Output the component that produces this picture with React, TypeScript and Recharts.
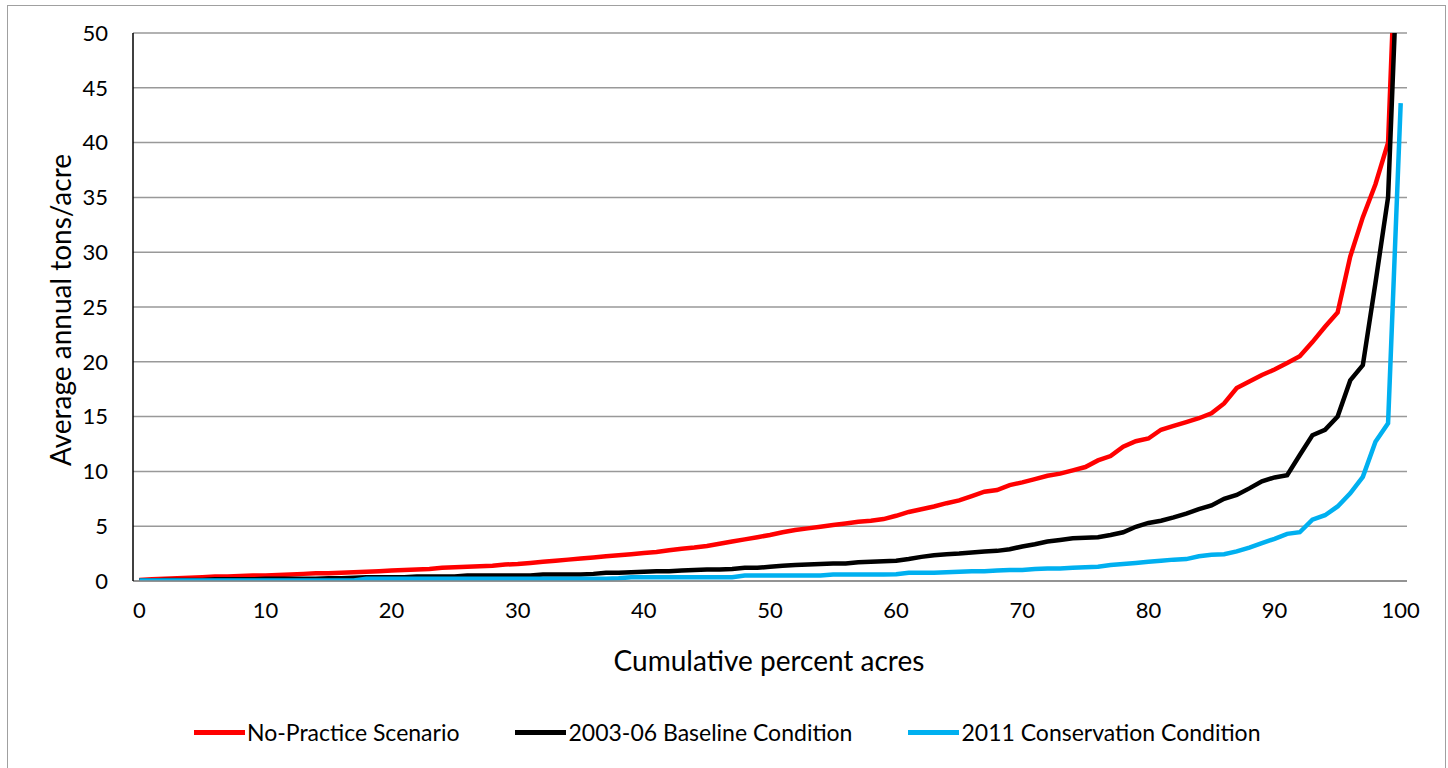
import React from "react";
import { LineChart, Line, XAxis, YAxis, CartesianGrid } from "recharts";

// cumulative percent of acres, 0..100
const percent = Array.from({ length: 101 }, (_, i) => i);

const noPractice = [
  0.1, 0.15, 0.2, 0.25, 0.3, 0.35, 0.4, 0.4, 0.45, 0.5,
  0.5, 0.55, 0.6, 0.65, 0.7, 0.7, 0.75, 0.8, 0.85, 0.9,
  0.95, 1.0, 1.05, 1.1, 1.2, 1.25, 1.3, 1.35, 1.4, 1.5,
  1.55, 1.65, 1.75, 1.85, 1.95, 2.05, 2.15, 2.25, 2.35, 2.45,
  2.55, 2.65, 2.8, 2.95, 3.05, 3.2, 3.4, 3.6, 3.8, 4.0,
  4.2, 4.45, 4.65, 4.8, 4.95, 5.1, 5.25, 5.4, 5.5, 5.65,
  5.95, 6.3, 6.55, 6.8, 7.1, 7.35, 7.75, 8.15, 8.3, 8.75,
  9.0, 9.3, 9.6, 9.8, 10.1, 10.4, 11.0, 11.4, 12.25, 12.75,
  13.0, 13.8, 14.15, 14.5, 14.85, 15.3, 16.2, 17.6, 18.2, 18.8,
  19.3, 19.9, 20.5, 21.8, 23.2, 24.5, 29.6, 33.2, 36.2, 40.0,
  70,
];

const baseline = [
  0.05, 0.05, 0.1, 0.1, 0.1, 0.1, 0.15, 0.15, 0.15, 0.15,
  0.2, 0.2, 0.2, 0.2, 0.2, 0.25, 0.25, 0.3, 0.35, 0.35,
  0.35, 0.35, 0.4, 0.4, 0.4, 0.4, 0.5, 0.5, 0.5, 0.5,
  0.5, 0.5, 0.6, 0.6, 0.6, 0.6, 0.65, 0.75, 0.75, 0.8,
  0.85, 0.9, 0.9, 0.95, 1.0, 1.05, 1.05, 1.1, 1.2, 1.2,
  1.3, 1.4, 1.45, 1.5, 1.55, 1.6, 1.6, 1.7, 1.75, 1.8,
  1.85, 2.0, 2.2, 2.35, 2.45, 2.5, 2.6, 2.7, 2.75, 2.9,
  3.15, 3.35, 3.6, 3.75, 3.9, 3.95, 4.0, 4.2, 4.45, 4.95,
  5.3, 5.5, 5.8, 6.15, 6.55, 6.9, 7.5, 7.85, 8.45, 9.1,
  9.45, 9.65, 11.5, 13.3, 13.8, 15.0, 18.3, 19.7, 27.2, 35.0,
  64,
];

const conservation = [
  0.05, 0.05, 0.05, 0.05, 0.05, 0.05, 0.05, 0.05, 0.05, 0.05,
  0.05, 0.05, 0.05, 0.05, 0.05, 0.05, 0.05, 0.05, 0.2, 0.2,
  0.2, 0.2, 0.2, 0.2, 0.2, 0.2, 0.2, 0.2, 0.2, 0.2,
  0.2, 0.2, 0.2, 0.2, 0.2, 0.2, 0.2, 0.2, 0.25, 0.35,
  0.35, 0.35, 0.35, 0.35, 0.35, 0.35, 0.35, 0.35, 0.5, 0.5,
  0.5, 0.5, 0.5, 0.5, 0.5, 0.6, 0.6, 0.6, 0.6, 0.6,
  0.62, 0.75, 0.75, 0.75, 0.8, 0.85, 0.9, 0.9, 0.95, 1.0,
  1.0, 1.1, 1.15, 1.15, 1.2, 1.25, 1.3, 1.45, 1.55, 1.65,
  1.75, 1.85, 1.95, 2.0, 2.25, 2.4, 2.45, 2.7, 3.05, 3.45,
  3.85, 4.3, 4.45, 5.6, 6.0, 6.8, 8.0, 9.5, 12.7, 14.4,
  43.6,
];

const xTicks = [0, 10, 20, 30, 40, 50, 60, 70, 80, 90, 100];
const yTicks = [0, 5, 10, 15, 20, 25, 30, 35, 40, 45, 50];

const seriesNames = [
  "No-Practice Scenario",
  "2003-06 Baseline Condition",
  "2011 Conservation Condition",
];
const seriesColors = ["#FF0000", "#000000", "#00B0F0"];

const data = percent.map((p, i) => ({
  p,
  noPractice: noPractice[i],
  baseline: baseline[i],
  conservation: conservation[i],
}));

const FONT = "Lato, 'Open Sans', sans-serif";
const tickStyle = { fill: "#000", fontSize: 22, fontFamily: FONT };

export default function App() {
  const keys = ["noPractice", "baseline", "conservation"];
  return (
    <div
      style={{
        position: "absolute",
        left: 0,
        top: 0,
        width: 1448,
        height: 768,
        overflow: "hidden",
        background: "#fff",
      }}
    >
      <div
        style={{
          position: "absolute",
          left: 7,
          top: 5,
          width: 1437,
          height: 800,
          border: "1.5px solid #a0a0a0",
        }}
      />
      <div style={{ position: "absolute", left: 0, top: 0 }}>
        <LineChart
          width={1448}
          height={768}
          data={data}
          margin={{ top: 33, right: 41, bottom: 127, left: 73 }}
        >
          <CartesianGrid
            vertical={false}
            stroke="#999"
            strokeWidth={1.5}
            horizontalValues={yTicks}
          />
          <XAxis
            dataKey="p"
            type="number"
            domain={[-0.5, 100.5]}
            ticks={xTicks}
            interval={0}
            tickLine={false}
            tickSize={0}
            tickMargin={21}
            axisLine={{ stroke: "#888", strokeWidth: 1.5 }}
            tick={tickStyle}
            height={60}
          />
          <XAxis
            xAxisId="top"
            orientation="top"
            dataKey="p"
            type="number"
            domain={[-0.5, 100.5]}
            tick={false}
            tickLine={false}
            axisLine={{ stroke: "#000", strokeWidth: 1.5 }}
            height={0}
          />
          <YAxis
            type="number"
            domain={[0, 50]}
            ticks={yTicks}
            interval={0}
            allowDataOverflow
            tickLine={false}
            tickSize={0}
            tickMargin={25}
            axisLine={{ stroke: "#000", strokeWidth: 1.5 }}
            tick={tickStyle}
            width={60}
          />
          <YAxis
            yAxisId="right"
            orientation="right"
            domain={[0, 50]}
            tick={false}
            tickLine={false}
            axisLine={{ stroke: "#000", strokeWidth: 1.5 }}
            width={0}
          />
          {keys.map((k, i) => (
            <Line
              key={k}
              dataKey={k}
              name={seriesNames[i]}
              type="linear"
              stroke={seriesColors[i]}
              strokeWidth={4.5}
              dot={false}
              isAnimationActive={false}
            />
          ))}
        </LineChart>
      </div>

      <div
        style={{
          position: "absolute",
          left: 60,
          top: 310,
          transform: "translate(-50%, -50%) rotate(-90deg)",
          fontFamily: FONT,
          fontSize: 28,
          whiteSpace: "nowrap",
          color: "#000",
        }}
      >
        Average annual tons/acre
      </div>
      <div
        style={{
          position: "absolute",
          left: 769,
          top: 660,
          transform: "translate(-50%, -50%)",
          fontFamily: FONT,
          fontSize: 28,
          whiteSpace: "nowrap",
          color: "#000",
        }}
      >
        Cumulative percent acres
      </div>

      <div
        style={{
          position: "absolute",
          left: 194,
          top: 718,
          display: "flex",
          alignItems: "center",
          gap: 56,
          fontFamily: FONT,
          fontSize: 23,
          color: "#000",
          whiteSpace: "nowrap",
        }}
      >
        {seriesNames.map((n, i) => (
          <div key={n} style={{ display: "flex", alignItems: "center" }}>
            <div
              style={{
                width: 51,
                height: 5,
                background: seriesColors[i],
                marginRight: 2,
              }}
            />
            <span>{n}</span>
          </div>
        ))}
      </div>
    </div>
  );
}
